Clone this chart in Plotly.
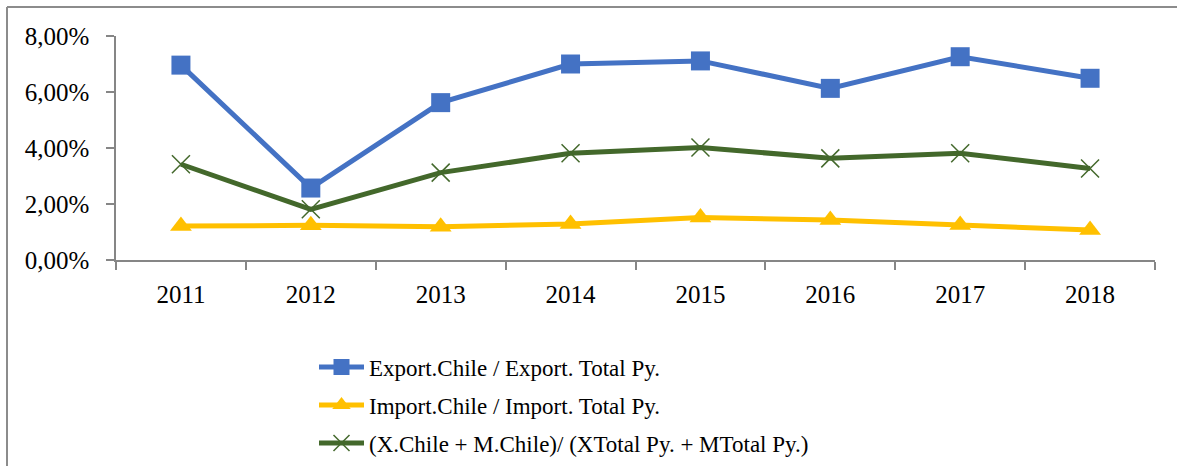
import plotly.graph_objects as go

years = ["2011", "2012", "2013", "2014", "2015", "2016", "2017", "2018"]
export_share = [0.0696, 0.0257, 0.0562, 0.0700, 0.0711, 0.0613, 0.0726, 0.0649]
import_share = [0.0121, 0.0124, 0.0119, 0.0129, 0.0152, 0.0143, 0.0125, 0.0107]
trade_share = [0.0342, 0.0181, 0.0312, 0.0381, 0.0402, 0.0363, 0.0381, 0.0327]

names = [
    "Export.Chile / Export. Total Py.",
    "Import.Chile / Import. Total Py.",
    "(X.Chile + M.Chile)/ (XTotal Py. + MTotal Py.)",
]

FONT = "Liberation Serif"
AX = "#868686"

# plot area in pixels: x 116..1155, y 36..260
def py(pix):
    return (260 - pix) / 224

fig = go.Figure()
fig.add_trace(go.Scatter(
    x=years, y=export_share, name=names[0], mode="lines+markers", legend="legend",
    line=dict(color="#4472C4", width=5),
    marker=dict(symbol="square", size=19, color="#4472C4"),
))
fig.add_trace(go.Scatter(
    x=years, y=import_share, name=names[1], mode="lines+markers", legend="legend2",
    line=dict(color="#FFC000", width=5),
    marker=dict(symbol="triangle-up", size=19, color="#FFC000"),
))
fig.add_trace(go.Scatter(
    x=years, y=trade_share, name=names[2], mode="lines+markers", legend="legend3",
    line=dict(color="#43682B", width=5),
    marker=dict(symbol="x-thin", size=18, color="#43682B",
                line=dict(color="#43682B", width=1.5)),
))

leg_common = dict(
    x=(314 - 116) / 1039, xanchor="left", yanchor="middle",
    font=dict(family=FONT, size=23, color="black"),
    bgcolor="rgba(0,0,0,0)", itemwidth=45,
)

fig.update_layout(
    width=1177, height=500,
    margin=dict(l=116, r=22, t=36, b=240),
    paper_bgcolor="white", plot_bgcolor="white",
    separators=",.",
    font=dict(family=FONT, size=25, color="black"),
    showlegend=True,
    legend=dict(y=py(367), **leg_common),
    legend2=dict(y=py(405), **leg_common),
    legend3=dict(y=py(443), **leg_common),
    xaxis=dict(
        type="category", range=[-0.5, 7.5], tickson="boundaries",
        showline=True, linecolor=AX, linewidth=1.5,
        ticks="outside", ticklen=8, tickcolor=AX, tickwidth=1.5,
        showgrid=False, zeroline=False, ticklabelstandoff=11,
        tickfont=dict(family=FONT, size=25),
    ),
    yaxis=dict(
        range=[0, 0.08], dtick=0.02, tickformat=".2%",
        showline=True, linecolor=AX, linewidth=1.5,
        ticks="outside", ticklen=8, tickcolor=AX, tickwidth=1.5,
        showgrid=False, zeroline=False, ticklabelstandoff=12,
        tickfont=dict(family=FONT, size=25),
    ),
    shapes=[
        dict(type="line", xref="paper", yref="paper",
             x0=(7 - 116) / 1039, x1=(1200 - 116) / 1039,
             y0=py(7), y1=py(7),
             line=dict(color="#8C8C8C", width=2)),
        dict(type="line", xref="paper", yref="paper",
             x0=(7 - 116) / 1039, x1=(7 - 116) / 1039,
             y0=py(7), y1=py(500),
             line=dict(color="#8C8C8C", width=2)),
    ],
)

fig.write_html(
    "out.html", config={"displayModeBar": False},
    post_script="document.body.style.margin='0px';"
                "document.body.style.overflow='hidden';"
                "document.documentElement.style.overflow='hidden';",
)
